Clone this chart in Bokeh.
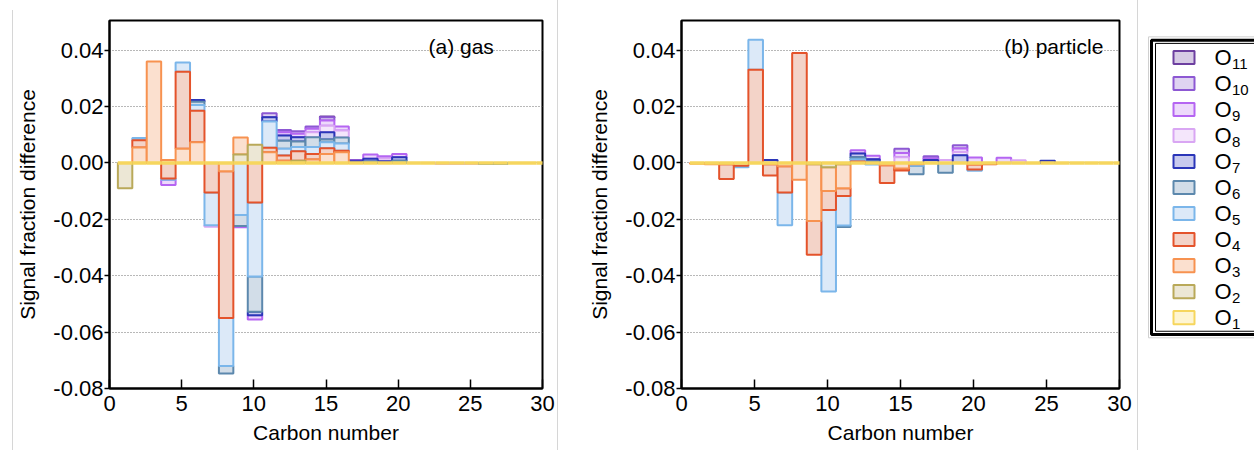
import numpy as np
from bokeh.plotting import figure
from bokeh.layouts import row
from bokeh.models import Range1d, FixedTicker, NumeralTickFormatter, ColumnDataSource, Spacer, Label
from bokeh.core.properties import value
from bokeh.embed import file_html
from bokeh.resources import INLINE

FONT = "Liberation Sans"

carbon = list(range(1, 31))
x_ticks = [0, 5, 10, 15, 20, 25, 30]
y_ticks = [-0.08, -0.06, -0.04, -0.02, 0.0, 0.02, 0.04]

series_names = ["O1", "O2", "O3", "O4", "O5", "O6", "O7", "O8", "O9", "O10", "O11"]
series_subscripts = ["1", "2", "3", "4", "5", "6", "7", "8", "9", "10", "11"]
line_colors = ["#f6d65e", "#b9a959", "#f79250", "#e4532b", "#7bb6ea", "#5c88ad",
               "#2a35b8", "#d9a6f3", "#b565f2", "#8d58d3", "#6d3fa0"]
fill_colors = ["#fef5d2", "#ece7d5", "#fbe0cf", "#f3d3c8", "#dce9f8", "#d2dde8",
               "#c8caee", "#f4e6fb", "#edd9fb", "#dfd3f1", "#d7cbe5"]

# ---- (a) gas : values for carbon numbers 1..30 ----
gas_O1 = [0, 0, 0, 0, 0, 0, 0, 0, 0, 0, 0, 0, 0, 0, 0, 0, 0, 0, 0, 0, 0, 0, 0, 0, 0, 0, 0, 0, 0, 0]
gas_O2 = [-0.009, 0, 0, 0, 0, 0, 0, 0, 0.003, 0.0064, 0, 0, 0.0008, 0, 0, 0, 0, 0, 0, 0, 0, 0, 0, 0, 0, 0, 0, 0, 0, 0]
gas_O3 = [0, 0.0055, 0.036, 0.001, 0.005, 0.0073, 0, -0.003, 0.006, 0, 0.0038, 0.0008, 0, 0.0012, 0.0032, 0.0038, 0, 0, 0, 0, 0, 0, 0, 0, 0, 0, 0, 0, 0, 0]
gas_O4 = [0, 0.0025, 0, -0.0055, 0.0273, 0.0112, -0.0105, -0.052, 0, -0.014, 0.0016, 0.0018, 0.0033, 0.002, 0.002, 0.0005, 0, 0, 0, 0, 0, 0, 0, 0, 0, 0, 0, 0, 0, 0]
gas_O5 = [0, 0.0008, 0, -0.0005, 0.0033, 0.002, -0.0116, -0.017, -0.0185, -0.0263, 0.0093, 0.0024, 0.0015, 0.0024, 0.0021, 0.0026, 0, 0, 0, 0, 0, 0, 0, 0, 0, 0, 0, 0, 0, 0]
gas_O6 = [0, 0, 0, 0, 0, 0.0012, 0, -0.0027, -0.0039, -0.0125, 0, 0.0029, 0.002, 0.0035, 0.001, 0.0021, 0, 0.0005, 0, 0.0008, 0, 0, 0, 0, 0, -0.0004, -0.0004, 0, 0, 0]
gas_O7 = [0, 0, 0, 0, 0, 0.0006, 0, 0, 0, -0.0012, 0.0015, 0.0018, 0.0015, 0, 0.0026, 0, 0.0006, 0.001, 0.0006, 0.0012, 0, 0, 0, 0, 0, 0, 0, 0, 0, 0]
gas_O8 = [0, 0, 0, 0, 0, 0, -0.0005, 0, 0, 0, 0, 0, 0, 0.0018, 0.0023, 0.0025, 0, 0, 0.001, 0, 0, 0, -0.0004, -0.0004, -0.0004, 0, 0, 0, 0, 0]
gas_O9 = [0, 0, 0, -0.0018, 0, 0, 0, 0, -0.0004, -0.0015, 0, 0.0012, 0.0012, 0.0012, 0.0018, 0.0014, 0, 0.0015, 0.0008, 0.0012, 0, 0, 0, 0, 0, 0, 0, 0, 0, 0]
gas_O10 = [0, 0, 0, 0, 0, 0, 0, 0, 0, 0, 0.0014, 0.0008, 0.0009, 0.0008, 0.0012, 0, 0.0004, 0, 0, 0, 0, 0, 0, 0, 0, 0, 0, 0, 0, 0]
gas_O11 = [0, 0, 0, 0, 0, 0, 0, 0, 0, 0, 0, 0, 0, 0, 0.0003, 0, 0, 0, 0, 0, 0, 0, 0, 0, 0, 0, 0, 0, 0, 0]

# ---- (b) particle : values for carbon numbers 1..30 ----
part_O1 = [0, 0, 0, 0, 0, 0, 0, 0, 0, 0, 0, 0, 0, 0, 0, 0, 0, 0, 0, 0, 0, 0, 0, 0, 0, 0, 0, 0, 0, 0]
part_O2 = [0, 0, 0, 0, 0, 0, 0, 0, -0.0005, -0.0015, -0.0005, 0, 0, 0, 0, 0, 0, 0, 0, 0, 0, 0, 0, 0, 0, 0, 0, 0, 0, 0]
part_O3 = [-0.0003, -0.0005, -0.0005, 0, 0, -0.0005, -0.0012, -0.006, -0.0201, -0.0085, -0.0085, 0, 0, -0.0008, -0.002, -0.0005, 0, 0, 0, -0.0006, 0, 0, 0, 0, 0, 0, 0, 0, 0, 0]
part_O4 = [0, 0, -0.0052, -0.001, 0.033, -0.004, -0.0093, 0.039, -0.012, -0.0067, -0.0027, 0.0005, 0, -0.0063, -0.0007, 0, 0, 0, 0, -0.0017, -0.0005, 0, 0, 0, 0, 0, 0, 0, 0, 0]
part_O5 = [0, 0, 0, -0.0005, 0.0107, 0, -0.0116, 0, 0, -0.0289, -0.0105, 0.0008, -0.0006, 0, 0, -0.0005, 0, 0, 0, -0.0005, 0, 0, 0, 0, 0, 0, 0, 0, 0, 0]
part_O6 = [0, 0, 0, 0, 0, 0, 0, 0, 0, 0, -0.0005, 0.0007, 0.0005, 0, 0, -0.003, 0, -0.0035, 0, 0, 0, 0, 0, 0, 0, 0, 0, 0, 0, 0]
part_O7 = [0, 0, 0, 0, 0, 0.001, 0, 0, 0, 0, 0, 0.0013, 0.0008, 0, 0, 0, 0.001, 0, 0.0027, 0, 0, 0, 0, 0, 0.0008, 0, 0, 0, 0, 0]
part_O8 = [0, 0, 0, 0, 0, 0, 0, 0, 0, 0, 0, 0, 0, 0, 0.002, 0, 0, 0.001, 0.0012, 0, 0, 0, 0.0009, 0, 0, 0, 0, 0, 0, 0]
part_O9 = [0, 0, 0, 0, 0, 0, 0, 0, 0, 0, 0, 0.0012, 0.0012, 0, 0.0015, 0, 0.0006, 0, 0.0012, 0.0019, 0, 0.0018, 0, 0, 0, 0, 0, 0, 0, 0]
part_O10 = [0, 0, 0, 0, 0, 0, 0, 0, 0, 0, 0, 0, 0, 0, 0.0015, 0, 0.0008, 0, 0.0012, 0, 0, 0, 0, 0, 0, 0, 0, 0, 0, 0]
part_O11 = [0, 0, 0, 0, 0, 0, 0, 0, 0, 0, 0, 0, 0, 0, 0, 0, 0, 0, 0, 0, 0, 0, 0, 0, 0, 0, 0, 0, 0, 0]

gas_series = [gas_O1, gas_O2, gas_O3, gas_O4, gas_O5, gas_O6, gas_O7, gas_O8, gas_O9, gas_O10, gas_O11]
part_series = [part_O1, part_O2, part_O3, part_O4, part_O5, part_O6, part_O7, part_O8, part_O9, part_O10, part_O11]

BAR_LEFT = -0.42
BAR_RIGHT = 0.58


def stacked(series_list):
    c = np.array(carbon, dtype=float)
    pos = np.zeros(len(carbon))
    neg = np.zeros(len(carbon))
    out = []
    for vals in series_list:
        v = np.array(vals, dtype=float)
        bottom = np.where(v >= 0, pos, neg)
        top = bottom + v
        pos = np.where(v > 0, top, pos)
        neg = np.where(v < 0, top, neg)
        out.append(dict(left=c + BAR_LEFT, right=c + BAR_RIGHT, bottom=bottom, top=top, v=v))
    return out


def make_panel(series_list, tag, width, mb_left, mb_right):
    p = figure(width=width, height=450, output_backend="svg", toolbar_location=None,
               x_range=Range1d(0, 30), y_range=Range1d(-0.08, 0.0505),
               min_border_left=mb_left, min_border_right=mb_right,
               min_border_top=20, min_border_bottom=62)
    p.outline_line_color = "black"
    p.outline_line_width = 2
    p.background_fill_color = "white"
    p.border_fill_color = "white"

    stacks = stacked(series_list)
    for i in reversed(range(len(series_names))):
        d = stacks[i]
        mask = np.ones(len(carbon), dtype=bool) if i == 0 else d["v"] != 0
        src = ColumnDataSource(dict(left=d["left"][mask], right=d["right"][mask],
                                    bottom=d["bottom"][mask], top=d["top"][mask]))
        p.quad(left="left", right="right", bottom="bottom", top="top", source=src,
               fill_color=fill_colors[i], line_color=line_colors[i],
               line_width=3.5 if i == 0 else 2)

    p.xaxis.ticker = FixedTicker(ticks=x_ticks)
    p.yaxis.ticker = FixedTicker(ticks=y_ticks)
    p.yaxis.formatter = NumeralTickFormatter(format="0.00")
    p.xgrid.visible = False
    p.ygrid.ticker = FixedTicker(ticks=y_ticks)
    p.ygrid.grid_line_color = "#707070"
    p.ygrid.grid_line_dash = "1 2"
    p.ygrid.grid_line_width = 1

    for ax in (p.xaxis, p.yaxis):
        ax.axis_line_color = "black"
        ax.axis_line_width = 2
        ax.major_tick_line_color = "black"
        ax.major_tick_line_width = 1.5
        ax.minor_tick_line_color = None
        ax.major_label_text_font = FONT
        ax.major_label_text_font_size = "22px"
        ax.major_label_text_color = "black"
        ax.axis_label_text_font = FONT
        ax.axis_label_text_font_size = "21px"
        ax.axis_label_text_font_style = "normal"
        ax.axis_label_text_color = "black"

    p.yaxis.major_tick_out = 5
    p.yaxis.major_tick_in = 0
    p.yaxis.major_label_standoff = 1
    p.yaxis.axis_label = "Signal fraction difference"
    p.yaxis.axis_label_standoff = 11

    p.xaxis.major_tick_out = 0
    p.xaxis.major_tick_in = 9
    p.xaxis.major_label_standoff = 7
    p.xaxis.axis_label = "Carbon number"
    p.xaxis.axis_label_standoff = 7

    p.add_layout(Label(x=22.1, y=0.0412, text=tag, text_baseline="middle", text_align="left",
                       text_font=FONT, text_font_size="21px", text_color="black"))
    return p


p_gas = make_panel(gas_series, "(a) gas", 544, 92, 15)
p_part = make_panel(part_series, "(b) particle", 579, 123, 18)

# ---- legend panel ----
leg = figure(width=116, height=450, output_backend="svg", toolbar_location=None,
             x_range=Range1d(1138, 1254), y_range=Range1d(450, 0),
             min_border=0, min_border_left=0, min_border_right=0, min_border_top=0, min_border_bottom=0)
leg.axis.visible = False
leg.grid.visible = False
leg.outline_line_color = None
leg.background_fill_color = "white"
leg.border_fill_color = "white"

leg.quad(left=[1148], right=[1262], top=[20], bottom=[388], fill_color=None, line_color="#d0d0d0", line_width=1)
leg.quad(left=[1151], right=[1262], top=[24], bottom=[384], fill_color=None, line_color="black", line_width=3)
leg.quad(left=[1155], right=[1262], top=[28], bottom=[380], fill_color=None, line_color="black", line_width=1)

order = list(reversed(range(len(series_names))))
row_y = [45.3 + 31.8 * k for k in range(len(order))]
leg.rect(x=[1183.5] * len(order), y=row_y, width=21, height=16,
         fill_color=[fill_colors[i] for i in order], line_color=[line_colors[i] for i in order], line_width=2)
leg.text(x=[1214] * len(order), y=row_y, text=["O"] * len(order), text_baseline="middle", text_align="left",
         text_font=value(FONT), text_font_size="22px", text_color="black")
leg.text(x=[1231.5] * len(order), y=[yy + 7.5 for yy in row_y], text=[series_subscripts[i] for i in order],
         text_baseline="middle", text_align="left",
         text_font=value(FONT), text_font_size="15px", text_color="black")

sep_a = Spacer(width=1, height=440, margin=(10, 0, 0, 0), styles={"background-color": "#d6d6d6"})
sep_b = Spacer(width=1, height=450, styles={"background-color": "#d6d6d6"})
sep_c = Spacer(width=1, height=450, styles={"background-color": "#d6d6d6"})

layout = row(Spacer(width=12, height=450), sep_a, p_gas, sep_b, p_part, sep_c, leg)

open("out.html", "w").write(file_html(layout, INLINE))
